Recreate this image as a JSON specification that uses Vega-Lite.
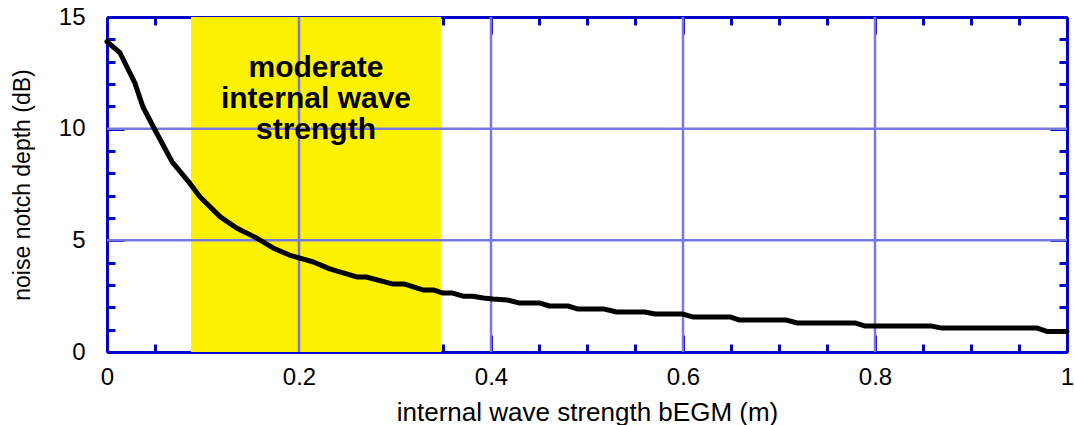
{
  "$schema": "https://vega.github.io/schema/vega-lite/v6.json",
  "width": 960,
  "height": 335,
  "autosize": {"type": "none"},
  "padding": {"left": 107, "top": 17, "right": 7, "bottom": 73},
  "background": "white",
  "config": {
    "view": {"stroke": null},
    "font": "Liberation Sans",
    "axis": {
      "grid": false,
      "domainColor": "#0000cc",
      "domainWidth": 3,
      "tickColor": "#0000cc",
      "tickWidth": 3,
      "labelFont": "Liberation Sans",
      "labelFontSize": 24,
      "labelColor": "#000000",
      "labelFlush": false,
      "labelOverlap": false,
      "titleFont": "Liberation Sans",
      "titleFontWeight": "normal",
      "titleColor": "#000000",
      "zindex": 1
    }
  },
  "datasets": {
    "curve": [
      {"b": 0.0, "depth": 13.9},
      {"b": 0.0135, "depth": 13.4},
      {"b": 0.029, "depth": 12.05},
      {"b": 0.0375, "depth": 10.97},
      {"b": 0.05, "depth": 9.94},
      {"b": 0.068, "depth": 8.5},
      {"b": 0.086, "depth": 7.57},
      {"b": 0.097, "depth": 6.94},
      {"b": 0.118, "depth": 6.05},
      {"b": 0.135, "depth": 5.55},
      {"b": 0.156, "depth": 5.1},
      {"b": 0.173, "depth": 4.66},
      {"b": 0.19, "depth": 4.34},
      {"b": 0.201, "depth": 4.2},
      {"b": 0.215, "depth": 4.03},
      {"b": 0.232, "depth": 3.72},
      {"b": 0.26, "depth": 3.36},
      {"b": 0.27, "depth": 3.36},
      {"b": 0.298, "depth": 3.04},
      {"b": 0.31, "depth": 3.04},
      {"b": 0.329, "depth": 2.78},
      {"b": 0.34, "depth": 2.78},
      {"b": 0.35, "depth": 2.64},
      {"b": 0.36, "depth": 2.64},
      {"b": 0.371, "depth": 2.5},
      {"b": 0.381, "depth": 2.5},
      {"b": 0.392, "depth": 2.42},
      {"b": 0.402, "depth": 2.37},
      {"b": 0.417, "depth": 2.33},
      {"b": 0.43, "depth": 2.19},
      {"b": 0.451, "depth": 2.19},
      {"b": 0.461, "depth": 2.06},
      {"b": 0.48, "depth": 2.06},
      {"b": 0.49, "depth": 1.93},
      {"b": 0.517, "depth": 1.93},
      {"b": 0.531, "depth": 1.79},
      {"b": 0.56, "depth": 1.79},
      {"b": 0.571, "depth": 1.7},
      {"b": 0.6, "depth": 1.7},
      {"b": 0.61, "depth": 1.57},
      {"b": 0.649, "depth": 1.57},
      {"b": 0.659, "depth": 1.43},
      {"b": 0.708, "depth": 1.43},
      {"b": 0.719, "depth": 1.3},
      {"b": 0.779, "depth": 1.3},
      {"b": 0.79, "depth": 1.16},
      {"b": 0.859, "depth": 1.16},
      {"b": 0.87, "depth": 1.07},
      {"b": 0.969, "depth": 1.07},
      {"b": 0.979, "depth": 0.92},
      {"b": 1.0, "depth": 0.92}
    ],
    "band": [{"start": 0.0875, "end": 0.348}],
    "vgrid": [{"b": 0.2}, {"b": 0.4}, {"b": 0.6}, {"b": 0.8}],
    "hgrid": [{"depth": 5}, {"depth": 10}],
    "note": [{"b": 0.2177, "depth": 12.31, "label": "moderate|internal wave|strength"}]
  },
  "resolve": {"axis": {"x": "independent", "y": "independent"}},
  "layer": [
    {
      "data": {"name": "band"},
      "mark": {"type": "rect", "color": "#fcf200"},
      "encoding": {
        "x": {"field": "start", "type": "quantitative", "scale": {"domain": [0, 1], "nice": false}, "axis": null},
        "x2": {"field": "end"}
      }
    },
    {
      "data": {"name": "vgrid"},
      "mark": {"type": "rule", "color": "#7878e2", "strokeWidth": 2.5},
      "encoding": {
        "x": {
          "field": "b", "type": "quantitative", "scale": {"domain": [0, 1], "nice": false},
          "axis": {
            "orient": "top",
            "values": [0, 0.05, 0.1, 0.15, 0.2, 0.25, 0.3, 0.35, 0.4, 0.45, 0.5, 0.55, 0.6, 0.65, 0.7, 0.75, 0.8, 0.85, 0.9, 0.95, 1],
            "labels": false,
            "title": null,
            "tickSize": {"condition": {"test": "round(datum.value*100) % 20 == 0", "value": -17}, "value": -8}
          }
        }
      }
    },
    {
      "data": {"name": "hgrid"},
      "mark": {"type": "rule", "color": "#7878e2", "strokeWidth": 2.5},
      "encoding": {
        "y": {
          "field": "depth", "type": "quantitative", "scale": {"domain": [0, 15], "nice": false},
          "axis": {
            "orient": "right",
            "values": [0, 1, 2, 3, 4, 5, 6, 7, 8, 9, 10, 11, 12, 13, 14, 15],
            "labels": false,
            "title": null,
            "tickSize": {"condition": {"test": "datum.value % 5 == 0", "value": -17}, "value": -8}
          }
        }
      }
    },
    {
      "data": {"name": "note"},
      "mark": {"type": "text", "font": "Liberation Sans", "fontSize": 30, "fontWeight": "bold", "align": "center", "baseline": "alphabetic", "lineBreak": "|", "lineHeight": 31, "color": "#000000"},
      "encoding": {
        "x": {"field": "b", "type": "quantitative", "scale": {"domain": [0, 1], "nice": false}, "axis": null},
        "y": {"field": "depth", "type": "quantitative", "scale": {"domain": [0, 15], "nice": false}, "axis": null},
        "text": {"field": "label"}
      }
    },
    {
      "data": {"name": "curve"},
      "mark": {"type": "line", "color": "#000000", "strokeWidth": 5, "strokeJoin": "round", "strokeCap": "round"},
      "encoding": {
        "x": {
          "field": "b", "type": "quantitative", "scale": {"domain": [0, 1], "nice": false},
          "axis": {
            "orient": "bottom",
            "values": [0, 0.05, 0.1, 0.15, 0.2, 0.25, 0.3, 0.35, 0.4, 0.45, 0.5, 0.55, 0.6, 0.65, 0.7, 0.75, 0.8, 0.85, 0.9, 0.95, 1],
            "format": "~g",
            "labelExpr": "round(datum.value*100) % 20 == 0 ? datum.label : ''",
            "tickSize": {"condition": {"test": "round(datum.value*100) % 20 == 0", "value": -17}, "value": -8},
            "labelPadding": 30,
            "title": "internal wave strength bEGM (m)",
            "titleFontSize": 26,
            "titlePadding": 1
          }
        },
        "y": {
          "field": "depth", "type": "quantitative", "scale": {"domain": [0, 15], "nice": false},
          "axis": {
            "orient": "left",
            "values": [0, 1, 2, 3, 4, 5, 6, 7, 8, 9, 10, 11, 12, 13, 14, 15],
            "labelExpr": "datum.value % 5 == 0 ? datum.label : ''",
            "tickSize": {"condition": {"test": "datum.value % 5 == 0", "value": -17}, "value": -8},
            "labelPadding": 39,
            "title": "noise notch depth (dB)",
            "titleFontSize": 23,
            "titlePadding": 24
          }
        }
      }
    }
  ]
}
